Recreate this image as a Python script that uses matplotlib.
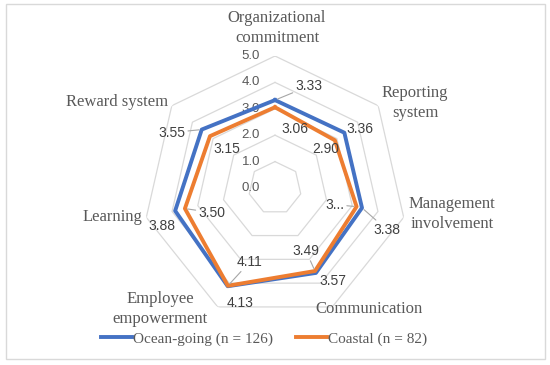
import numpy as np
import matplotlib
matplotlib.use('Agg')
import matplotlib.pyplot as plt
from matplotlib.patches import Rectangle

# data
categories = ['Organizational\ncommitment', 'Reporting\nsystem', 'Management\ninvolvement',
              'Communication', 'Employee\nempowerment', 'Learning', 'Reward system']
ocean = [3.33, 3.36, 3.38, 3.57, 4.13, 3.88, 3.55]
coastal = [3.06, 2.90, 3.17, 3.49, 4.11, 3.50, 3.15]
coastal_text = ['3.06', '2.90', '3...', '3.49', '4.11', '3.50', '3.15']
ticks = [0, 1, 2, 3, 4, 5]

W, H = 550, 365
cx, cy, rad = 275, 188, 132

fig = plt.figure(figsize=(5.5, 3.65), dpi=100)
fig.patches.append(Rectangle((6 / W, 1 - 359 / H), 539 / W, 355 / H, transform=fig.transFigure,
                             fill=False, edgecolor='#d9d9d9', lw=1))

ax = fig.add_axes([(cx - rad) / W, (H - cy - rad) / H, 2 * rad / W, 2 * rad / H], projection='polar')
ax.set_theta_zero_location('N')
ax.set_theta_direction(-1)
ax.set_ylim(0, 5)
ax.grid(False)
ax.spines['polar'].set_visible(False)
ax.set_xticks([])
ax.set_yticks([])
ax.patch.set_alpha(0)

n = len(categories)
theta = np.arange(n) * 2 * np.pi / n
tc = np.append(theta, theta[0])

# heptagon grid
for t in ticks:
    ax.plot(tc, [t] * (n + 1), color='#d9d9d9', lw=0.9, zorder=1)
    ax.annotate(f'{t:.1f}', xy=(0, t), xytext=(-24, 0), textcoords='offset pixels',
                ha='center', va='center', fontsize=9.5, color='#595959', family='Liberation Sans')

ax.plot(tc, ocean + ocean[:1], color='#4472C4', lw=2.8, zorder=3, label='Ocean-going (n = 126)')
ax.plot(tc, coastal + coastal[:1], color='#ED7D31', lw=2.8, zorder=4, label='Coastal (n = 82)')

# label offsets in pixels from the vertex
ocean_off = [(34, 14), (16, 4), (25, -22), (17, -8), (12, -17), (-13, -15), (-30, -3)]
coastal_off = [(20, -22), (-9, -9), (-22, 2), (-9, 20), (22, 24), (27, -4), (17, -13)]
ocean_lead = [True, False, True, False, False, False, True]
coastal_lead = [False, False, True, True, True, True, False]

def put_labels(vals, texts, offs, leads):
    for th, v, s, o, ld in zip(theta, vals, texts, offs, leads):
        ap = dict(arrowstyle='-', color='#a6a6a6', lw=0.8, shrinkA=0, shrinkB=2) if ld else None
        ax.annotate(s, xy=(th, v), xytext=o, textcoords='offset pixels', ha='center', va='center',
                    fontsize=10, color='#404040', family='Liberation Sans', arrowprops=ap, zorder=5)

put_labels(ocean, [f'{v:.2f}' for v in ocean], ocean_off, ocean_lead)
put_labels(coastal, coastal_text, coastal_off, coastal_lead)

# category labels
cat_pos = [(277, 28), (415, 103), (452, 214), (369, 309), (160, 309), (112, 217), (117, 102)]
for name, (x, y) in zip(categories, cat_pos):
    fig.text(x / W, 1 - y / H, name, ha='center', va='center', fontsize=12,
             color='#595959', family='Liberation Serif', linespacing=1.3)

fig.legend(loc='center', bbox_to_anchor=(264.5 / W, 1 - 339 / H), ncol=2, frameon=False,
           prop={'family': 'Liberation Serif', 'size': 11}, handlelength=2.0,
           handletextpad=0.1, columnspacing=1.5, labelcolor='#595959')

fig.savefig('out.png', dpi=100)
